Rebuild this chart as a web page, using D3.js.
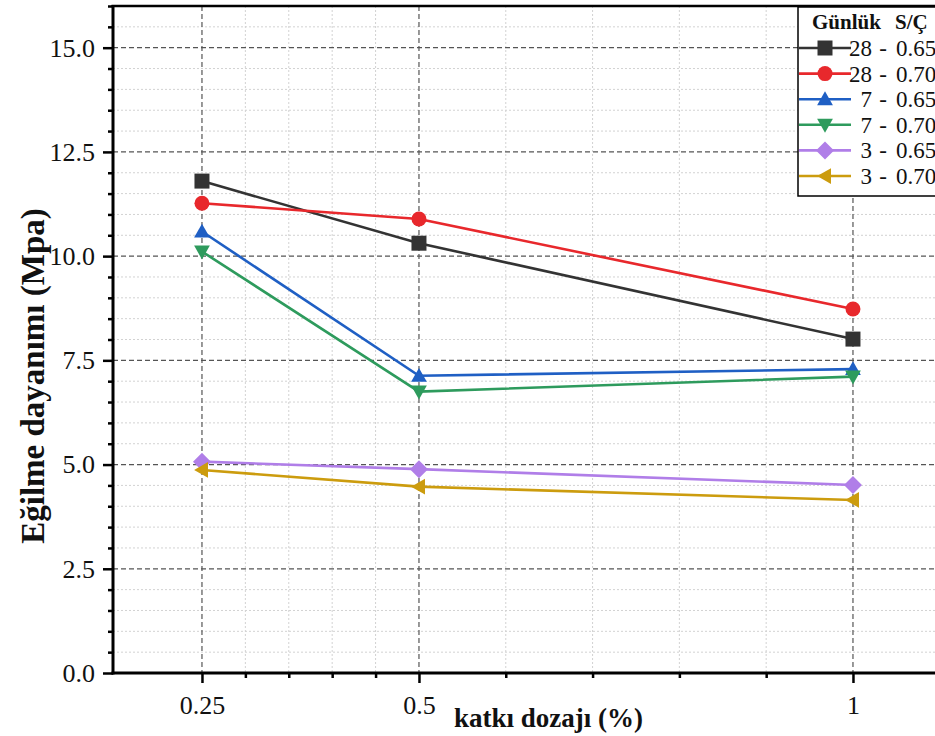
<!DOCTYPE html>
<html>
<head>
<meta charset="utf-8">
<script src="https://cdn.jsdelivr.net/npm/d3@7"></script>
<style>
  html, body { margin: 0; padding: 0; background: #fff; overflow: hidden; }
  svg { display: block; }
  svg text { font-family: "Liberation Serif", "Times New Roman", serif !important; }
</style>
</head>
<body>
<svg id="chart" width="935" height="736"></svg>
<script>
// Dosage levels (%) on the x axis
const dosages = [0.25, 0.5, 1];

// Flexural strength (MPa) per curing age / water-cement ratio
const s28_065 = [11.80, 10.31, 8.01];
const s28_070 = [11.27, 10.89, 8.73];
const s7_065  = [10.59, 7.13, 7.29];
const s7_070  = [10.11, 6.75, 7.11];
const s3_065  = [5.07, 4.89, 4.51];
const s3_070  = [4.87, 4.47, 4.15];

// Legend labels: curing days and S/Ç ratio
const seriesDays   = ["28", "28", "7", "7", "3", "3"];
const seriesRatios = ["0.65", "0.70", "0.65", "0.70", "0.65", "0.70"];
const seriesValues = [s28_065, s28_070, s7_065, s7_070, s3_065, s3_070];

// Axis ticks
const xMajorTicks = [0.25, 0.5, 1];
const xTickLabels = ["0.25", "0.5", "1"];
const xMinorTicks = [0.3, 0.35, 0.4, 0.45, 0.6, 0.7, 0.8, 0.9];
const yMajorTicks = [0, 2.5, 5, 7.5, 10, 12.5, 15];

const colors  = ["#333333", "#e8282c", "#1f5fc4", "#2e9b5d", "#b07ee8", "#cc9c0e"];
const symbols = ["square", "circle", "triUp", "triDown", "diamond", "triLeft"];

const svg = d3.select("#chart");

const plotLeft = 113, plotTop = 6, plotBottom = 673;
const x = d3.scaleLinear().domain([0.1475, 1.1]).range([plotLeft, plotLeft + 0.9525 * 868]);
const y = d3.scaleLinear().domain([0, 16]).range([plotBottom, plotTop]);

const yMinorTicks = d3.range(0, 16.01, 0.5).filter(v => Math.abs(v / 2.5 - Math.round(v / 2.5)) > 1e-6);

// Grid: minor dotted
const grid = svg.append("g");
grid.selectAll(".hmin").data(yMinorTicks.filter(v => v < 16)).join("line")
  .attr("x1", plotLeft).attr("x2", 935)
  .attr("y1", d => y(d)).attr("y2", d => y(d))
  .attr("stroke", "#d2d2d2").attr("stroke-width", 1).attr("stroke-dasharray", "2,2");
grid.selectAll(".vmin").data(xMinorTicks).join("line")
  .attr("x1", d => x(d)).attr("x2", d => x(d))
  .attr("y1", plotTop).attr("y2", plotBottom)
  .attr("stroke", "#d2d2d2").attr("stroke-width", 1).attr("stroke-dasharray", "2,2");
// Grid: major dashed
grid.selectAll(".hmaj").data(yMajorTicks.filter(v => v > 0)).join("line")
  .attr("x1", plotLeft).attr("x2", 935)
  .attr("y1", d => y(d)).attr("y2", d => y(d))
  .attr("stroke", "#555").attr("stroke-width", 1.2).attr("stroke-dasharray", "5,3");
grid.selectAll(".vmaj").data(xMajorTicks).join("line")
  .attr("x1", d => x(d)).attr("x2", d => x(d))
  .attr("y1", plotTop).attr("y2", plotBottom)
  .attr("stroke", "#555").attr("stroke-width", 1.2).attr("stroke-dasharray", "5,3");

// Axes
function styleAxis(g) {
  g.attr("font-family", null).attr("font-size", null);
  g.select(".domain").remove();
  g.selectAll(".tick line").attr("stroke", "#000").attr("stroke-width", 2.5);
  g.selectAll(".tick text").attr("fill", "#111").style("font-size", "26px");
}
const yAxisMinor = svg.append("g").attr("transform", `translate(${plotLeft},0)`)
  .call(d3.axisLeft(y).tickValues(yMinorTicks).tickSize(5).tickFormat(""));
styleAxis(yAxisMinor);
const yAxis = svg.append("g").attr("transform", `translate(${plotLeft},0)`)
  .call(d3.axisLeft(y).tickValues(yMajorTicks).tickSize(10).tickPadding(8).tickFormat(d3.format(".1f")));
styleAxis(yAxis);

const xAxisMinor = svg.append("g").attr("transform", `translate(0,${plotBottom})`)
  .call(d3.axisBottom(x).tickValues(xMinorTicks).tickSize(5).tickFormat(""));
styleAxis(xAxisMinor);
const xAxis = svg.append("g").attr("transform", `translate(0,${plotBottom})`)
  .call(d3.axisBottom(x).tickValues(xMajorTicks).tickSize(10).tickPadding(13)
    .tickFormat((d, i) => xTickLabels[i]));
styleAxis(xAxis);

// Frame lines
svg.append("line").attr("x1", plotLeft).attr("x2", plotLeft).attr("y1", plotTop - 1).attr("y2", plotBottom + 1.5)
  .attr("stroke", "#000").attr("stroke-width", 3);
svg.append("line").attr("x1", plotLeft - 1.5).attr("x2", 935).attr("y1", plotBottom).attr("y2", plotBottom)
  .attr("stroke", "#000").attr("stroke-width", 3);
svg.append("line").attr("x1", plotLeft - 1.5).attr("x2", 935).attr("y1", plotTop).attr("y2", plotTop)
  .attr("stroke", "#000").attr("stroke-width", 2.5);

// Marker drawing
function marker(sel, kind, color, s) {
  const h = s / 2;
  let path;
  if (kind === "square") path = `M${-h},${-h}H${h}V${h}H${-h}Z`;
  else if (kind === "circle") path = d3.symbol(d3.symbolCircle, Math.PI * h * h)();
  else if (kind === "triUp") path = `M0,${-h * 1.05}L${h * 1.05},${h * 0.8}L${-h * 1.05},${h * 0.8}Z`;
  else if (kind === "triDown") path = `M0,${h * 1.05}L${h * 1.05},${-h * 0.8}L${-h * 1.05},${-h * 0.8}Z`;
  else if (kind === "diamond") path = `M0,${-h * 1.2}L${h * 1.2},0L0,${h * 1.2}L${-h * 1.2},0Z`;
  else path = `M${-h * 1.05},0L${h * 0.8},${-h * 1.05}L${h * 0.8},${h * 1.05}Z`;
  sel.append("path").attr("d", path).attr("fill", color);
}

// Series
const line = d3.line().x((d, i) => x(dosages[i])).y(d => y(d));
seriesValues.forEach((vals, k) => {
  svg.append("path").datum(vals).attr("d", line)
    .attr("fill", "none").attr("stroke", colors[k]).attr("stroke-width", 2.6);
});
seriesValues.forEach((vals, k) => {
  vals.forEach((v, i) => {
    const g = svg.append("g").attr("transform", `translate(${x(dosages[i])},${y(v)})`);
    marker(g, symbols[k], colors[k], 15);
  });
});

// Axis titles
svg.append("text").attr("x", 454).attr("y", 727)
  .style("font-size", "27px").style("font-weight", "bold").attr("fill", "#111")
  .text("katkı dozajı (%)");
svg.append("text").attr("transform", "translate(44,376) rotate(-90)")
  .attr("text-anchor", "middle")
  .style("font-size", "33px").style("font-weight", "bold").attr("fill", "#111")
  .text("Eğilme dayanımı (Mpa)");

// Legend
const lg = svg.append("g");
lg.append("rect").attr("x", 798).attr("y", 7).attr("width", 150).attr("height", 189)
  .attr("fill", "#fff").attr("stroke", "#000").attr("stroke-width", 1.5);
lg.append("text").attr("x", 812).attr("y", 29).style("font-size", "21px").style("font-weight", "bold")
  .attr("fill", "#111").text("Günlük");
lg.append("text").attr("x", 895).attr("y", 29).style("font-size", "21px").style("font-weight", "bold")
  .attr("fill", "#111").text("S/Ç");
seriesDays.forEach((d, k) => {
  const cy = 48 + 25.6 * k;
  lg.append("line").attr("x1", 799).attr("x2", 851).attr("y1", cy).attr("y2", cy)
    .attr("stroke", colors[k]).attr("stroke-width", 2.6);
  marker(lg.append("g").attr("transform", `translate(825,${cy})`), symbols[k], colors[k], 15);
  lg.append("text").attr("x", 872).attr("y", cy + 8).attr("text-anchor", "end")
    .style("font-size", "23px").attr("fill", "#111").text(d);
  lg.append("text").attr("x", 883).attr("y", cy + 8).attr("text-anchor", "middle")
    .style("font-size", "23px").attr("fill", "#111").text("-");
  lg.append("text").attr("x", 896).attr("y", cy + 8)
    .style("font-size", "23px").attr("fill", "#111").text(seriesRatios[k]);
});
</script>
</body>
</html>
